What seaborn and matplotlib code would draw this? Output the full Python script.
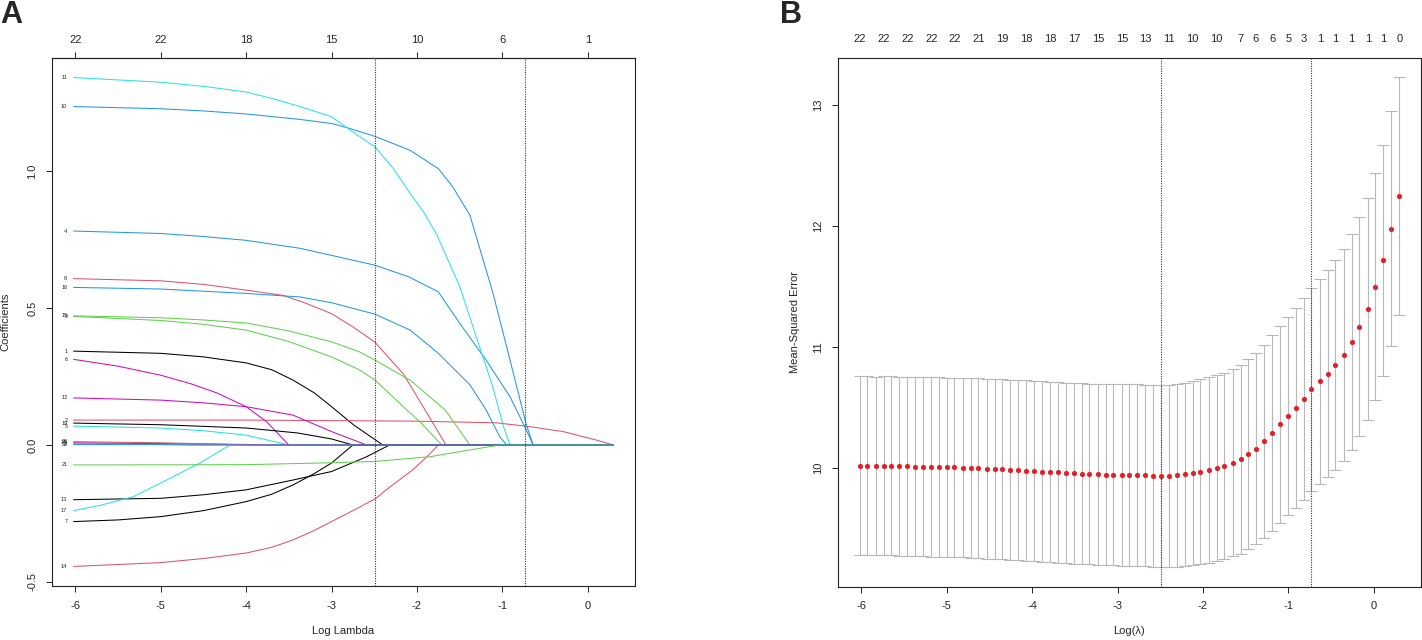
import matplotlib
matplotlib.use("Agg")
import matplotlib.pyplot as plt
import seaborn as sns
import pandas as pd

sns.set_style("ticks")
plt.rcParams["font.family"] = ["Liberation Sans", "DejaVu Sans"]
plt.rcParams["axes.unicode_minus"] = False

# glmnet log(lambda) grid, largest lambda first (69 steps)
log_lambda = [0.30, 0.20, 0.11, 0.02, -0.07, -0.17, -0.26, -0.35, -0.45, -0.54,
              -0.63, -0.73, -0.82, -0.91, -1.00, -1.10, -1.19, -1.28, -1.38, -1.47,
              -1.56, -1.65, -1.75, -1.84, -1.93, -2.03, -2.12, -2.21, -2.30, -2.40,
              -2.49, -2.58, -2.68, -2.77, -2.86, -2.95, -3.05, -3.14, -3.23, -3.33,
              -3.42, -3.51, -3.60, -3.70, -3.79, -3.88, -3.98, -4.07, -4.16, -4.26,
              -4.35, -4.44, -4.53, -4.63, -4.72, -4.81, -4.91, -5.00, -5.09, -5.18,
              -5.28, -5.37, -5.46, -5.56, -5.65, -5.74, -5.83, -5.93, -6.02]

# cross-validated mean squared error and its standard error
cv_mse = [12.249, 11.979, 11.717, 11.500, 11.317, 11.169, 11.044, 10.938, 10.853, 10.782,
          10.719, 10.653, 10.574, 10.499, 10.434, 10.365, 10.292, 10.223, 10.163, 10.115,
          10.074, 10.046, 10.021, 10.001, 9.987, 9.972, 9.961, 9.950, 9.941, 9.938,
          9.936, 9.938, 9.941, 9.942, 9.944, 9.945, 9.947, 9.948, 9.950, 9.953,
          9.956, 9.959, 9.961, 9.967, 9.970, 9.972, 9.978, 9.981, 9.983, 9.989,
          9.992, 9.994, 9.997, 10.000, 10.003, 10.006, 10.008, 10.008, 10.011, 10.011,
          10.014, 10.014, 10.017, 10.017, 10.020, 10.020, 10.020, 10.022, 10.022]
cv_sd = [0.980, 0.973, 0.953, 0.936, 0.917, 0.902, 0.891, 0.876, 0.866, 0.856,
         0.846, 0.839, 0.834, 0.826, 0.819, 0.813, 0.807, 0.797, 0.788, 0.784,
         0.778, 0.774, 0.769, 0.769, 0.765, 0.762, 0.760, 0.758, 0.754, 0.751,
         0.751, 0.751, 0.750, 0.750, 0.749, 0.749, 0.748, 0.748, 0.748, 0.747,
         0.747, 0.746, 0.746, 0.746, 0.745, 0.745, 0.745, 0.744, 0.744, 0.744,
         0.743, 0.743, 0.742, 0.742, 0.742, 0.741, 0.741, 0.740, 0.740, 0.740,
         0.739, 0.739, 0.739, 0.738, 0.738, 0.738, 0.737, 0.737, 0.737]
idx_min, idx_1se = 30, 11

# non-zero counts printed above panel B (index into log_lambda)
nz_idx = [0, 2, 4, 6, 8, 10, 12, 14, 16, 18, 20, 23, 26, 29, 32, 35, 38, 41,
          44, 47, 50, 53, 56, 59, 62, 65, 68]
nz_text = ["0", "1", "1", "1", "1", "1", "3", "5", "6", "6", "7", "10", "10", "11",
           "13", "15", "15", "17", "18", "18", "19", "21", "22", "22", "22", "22", "22"]

# degrees of freedom printed above panel A
path_ticks = [-6, -5, -4, -3, -2, -1, 0]
path_df = ["22", "22", "18", "15", "10", "6", "1"]

# coefficient paths: (log lambda, coefficient) knots for each variable
p01 = [(-6.02, 0.343), (-5.0, 0.335), (-4.5, 0.322), (-4.0, 0.300), (-3.7, 0.275), (-3.45, 0.237),
       (-3.2, 0.19), (-3.0, 0.140), (-2.74, 0.073), (-2.40, 0.0), (0.30, 0.0)]
p02 = [(-6.02, 0.091), (-4.0, 0.091), (-3.0, 0.089), (-2.0, 0.087), (-1.07, 0.081), (-0.68, 0.067),
       (-0.29, 0.049), (0.10, 0.018), (0.30, 0.0)]
p03 = [(-6.02, 0.004), (-5.0, 0.002), (-4.5, 0.0), (0.30, 0.0)]
p04 = [(-6.02, 0.782), (-5.0, 0.773), (-4.5, 0.762), (-4.0, 0.748), (-3.37, 0.719), (-3.0, 0.693),
       (-2.49, 0.657), (-2.1, 0.615), (-1.75, 0.560), (-1.5, 0.445), (-1.19, 0.310),
       (-0.91, 0.176), (-0.72, 0.055), (-0.64, 0.0), (0.30, 0.0)]
p05 = [(-6.02, 0.069), (-5.0, 0.062), (-4.5, 0.052), (-4.0, 0.036), (-3.57, 0.005), (-3.50, 0.0),
       (0.30, 0.0)]
p06 = [(-6.02, 0.313), (-5.5, 0.288), (-5.0, 0.255), (-4.65, 0.224), (-4.34, 0.190), (-4.0, 0.140),
       (-3.76, 0.085), (-3.50, 0.0), (0.30, 0.0)]
p07 = [(-6.02, -0.280), (-5.5, -0.274), (-5.0, -0.262), (-4.5, -0.240), (-4.0, -0.207),
       (-3.7, -0.180), (-3.45, -0.146), (-3.2, -0.104), (-3.0, -0.066), (-2.75, 0.0), (0.30, 0.0)]
p08 = [(-6.02, 0.608), (-5.0, 0.600), (-4.5, 0.587), (-4.0, 0.566), (-3.57, 0.547), (-3.3, 0.518),
       (-3.0, 0.480), (-2.75, 0.432), (-2.49, 0.375), (-2.16, 0.260), (-1.88, 0.115),
       (-1.66, 0.0), (0.30, 0.0)]
p09 = [(-6.02, 0.470), (-5.0, 0.455), (-4.5, 0.441), (-4.0, 0.420), (-3.5, 0.378), (-3.0, 0.322),
       (-2.67, 0.274), (-2.49, 0.237), (-2.16, 0.140), (-1.95, 0.080), (-1.71, 0.0), (0.30, 0.0)]
p10 = [(-6.02, 1.237), (-5.0, 1.229), (-4.5, 1.221), (-4.0, 1.210), (-3.37, 1.190), (-3.0, 1.175),
       (-2.82, 1.160), (-2.49, 1.128), (-2.08, 1.077), (-1.75, 1.010), (-1.58, 0.943),
       (-1.38, 0.840), (-1.11, 0.555), (-0.91, 0.310), (-0.725, 0.080), (-0.64, 0.0), (0.30, 0.0)]
p11 = [(-6.02, 1.343), (-5.0, 1.326), (-4.5, 1.311), (-4.0, 1.290), (-3.7, 1.267), (-3.37, 1.237),
       (-3.0, 1.200), (-2.82, 1.160), (-2.67, 1.127), (-2.49, 1.089), (-2.28, 1.012),
       (-2.08, 0.920), (-1.92, 0.850), (-1.77, 0.770), (-1.50, 0.580), (-1.30, 0.390),
       (-1.11, 0.210), (-0.99, 0.070), (-0.91, 0.0), (0.30, 0.0)]
p12 = [(-6.02, 0.172), (-5.0, 0.164), (-4.5, 0.154), (-4.0, 0.140), (-3.45, 0.109), (-3.0, 0.049),
       (-2.59, 0.0), (0.30, 0.0)]
p13 = [(-6.02, -0.200), (-5.0, -0.195), (-4.5, -0.182), (-4.0, -0.164), (-3.45, -0.128),
       (-3.0, -0.097), (-2.59, -0.043), (-2.32, 0.0), (0.30, 0.0)]
p14 = [(-6.02, -0.444), (-5.0, -0.430), (-4.5, -0.415), (-4.0, -0.395), (-3.7, -0.374),
       (-3.45, -0.347), (-3.2, -0.312), (-3.0, -0.280), (-2.75, -0.240), (-2.48, -0.195),
       (-2.36, -0.164), (-2.05, -0.091), (-1.85, -0.033), (-1.75, 0.0), (0.30, 0.0)]
p15 = [(-6.02, 0.472), (-5.0, 0.465), (-4.5, 0.457), (-4.0, 0.446), (-3.5, 0.417), (-3.0, 0.377),
       (-2.67, 0.340), (-2.49, 0.310), (-2.08, 0.237), (-1.67, 0.128), (-1.38, 0.0), (0.30, 0.0)]
p16 = [(-6.02, 0.576), (-5.0, 0.570), (-4.0, 0.554), (-3.37, 0.541), (-3.0, 0.520), (-2.49, 0.478),
       (-2.08, 0.420), (-1.75, 0.335), (-1.38, 0.220), (-1.19, 0.128), (-1.03, 0.030),
       (-0.95, 0.0), (0.30, 0.0)]
p17 = [(-6.02, -0.240), (-5.7, -0.220), (-5.32, -0.189), (-4.93, -0.128), (-4.54, -0.066),
       (-4.19, 0.0), (0.30, 0.0)]
p18 = [(-6.02, 0.008), (-5.0, 0.005), (-4.0, 0.002), (-3.6, 0.0), (0.30, 0.0)]
p19 = [(-6.02, 0.080), (-5.0, 0.074), (-4.0, 0.062), (-3.4, 0.044), (-3.0, 0.022), (-2.75, 0.0),
       (0.30, 0.0)]
p20 = [(-6.02, 0.012), (-5.0, 0.008), (-4.3, 0.003), (-4.0, 0.0), (0.30, 0.0)]
p21 = [(-6.02, -0.073), (-4.0, -0.072), (-3.0, -0.065), (-2.49, -0.060), (-1.85, -0.043),
       (-1.38, -0.018), (-1.03, 0.0), (0.30, 0.0)]
p22 = [(-6.02, 0.002), (-5.0, 0.001), (-4.6, 0.0), (0.30, 0.0)]

paths = [p01, p02, p03, p04, p05, p06, p07, p08, p09, p10, p11,
         p12, p13, p14, p15, p16, p17, p18, p19, p20, p21, p22]

# R's default matplot colours (col = 1:6, recycled)
r_cols = ["black", "#DF536B", "#61D04F", "#2297E6", "#28E2E5", "#CD0BBC"]


def r_lim(lo, hi, f=0.04):
    d = (hi - lo) * f
    return lo - d, hi + d


rows = []
for k, pts in enumerate(paths, start=1):
    for x, y in pts:
        rows.append({"var": str(k), "log_lambda": x, "coef": y})
coef_df = pd.DataFrame(rows)
var_order = [str(k) for k in range(1, len(paths) + 1)]
pal = {v: r_cols[i % 6] for i, v in enumerate(var_order)}

W, H = 1422, 640
fig = plt.figure(figsize=(W / 100, H / 100), dpi=100)
axA = fig.add_axes([52 / W, 1 - 586 / H, (635 - 52) / W, (586 - 58) / H])
axB = fig.add_axes([838 / W, 1 - 586.6 / H, (1421 - 838) / W, (586.6 - 57.6) / H])

box_col = "#222222"


def r_box(ax):
    for s in ax.spines.values():
        s.set_visible(True)
        s.set_linewidth(0.8)
        s.set_color(box_col)
    ax.tick_params(direction="out", length=4.5, width=0.7, color=box_col,
                   labelsize=8, pad=6)
    ax.tick_params(axis="y", labelrotation=90)
    for lab in ax.get_yticklabels():
        lab.set_va("center")


# ---- panel A: coefficient paths
sns.lineplot(data=coef_df, x="log_lambda", y="coef", hue="var", hue_order=var_order,
             palette=pal, estimator=None, sort=False, legend=False,
             linewidth=0.75, ax=axA)
for k, pts in enumerate(paths, start=1):
    x0, y0 = pts[0]
    axA.annotate(str(k), (x0, y0), xytext=(-4.5, 0), textcoords="offset points",
                 ha="right", va="center", fontsize=4)
for i in (idx_min, idx_1se):
    axA.axvline(log_lambda[i], color="#333333", lw=0.8, ls=(0, (1, 1.2)))

all_coef = coef_df["coef"]
axA.set_xlim(r_lim(min(log_lambda), max(log_lambda)))
axA.set_ylim(r_lim(all_coef.min(), all_coef.max()))
axA.set_xticks(path_ticks)
axA.set_yticks([-0.5, 0.0, 0.5, 1.0])
axA.set_yticklabels(["-0.5", "0.0", "0.5", "1.0"])
r_box(axA)
axA.set_xlabel("Log Lambda", fontsize=8)
axA.set_ylabel("Coefficients", fontsize=8)
axA.xaxis.set_label_coords(0.5, -(626 - 586) / 528)
axA.yaxis.set_label_coords(-(52 - 10) / 583, 0.5)

topA = axA.secondary_xaxis("top")
topA.set_xticks(path_ticks, labels=path_df)
topA.tick_params(direction="out", length=4.5, width=0.7, color=box_col, labelsize=8, pad=5)
topA.spines["top"].set_color(box_col)
topA.spines["top"].set_linewidth(0.8)

# ---- panel B: cross-validation curve
axB.errorbar(log_lambda, cv_mse, yerr=cv_sd, fmt="none", ecolor="#B8B8B8",
             elinewidth=0.8, capsize=4, capthick=0.8, zorder=2)
sns.scatterplot(x=log_lambda, y=cv_mse, color="#E3202A", s=14, linewidth=0,
                ax=axB, zorder=3)
for i in (idx_min, idx_1se):
    axB.axvline(log_lambda[i], color="#333333", lw=0.8, ls=(0, (1, 1.2)))

lo = [m - s for m, s in zip(cv_mse, cv_sd)]
hi = [m + s for m, s in zip(cv_mse, cv_sd)]
axB.set_xlim(r_lim(min(log_lambda), max(log_lambda)))
axB.set_ylim(r_lim(min(lo), max(hi)))
axB.set_xticks(path_ticks)
axB.set_yticks([10, 11, 12, 13])
r_box(axB)
axB.set_xlabel("Log(\u03bb)", fontsize=8)
axB.set_ylabel("Mean-Squared Error", fontsize=8)
axB.xaxis.set_label_coords(0.5, -(626 - 586.6) / 529)
axB.yaxis.set_label_coords(-(838 - 800) / 583, 0.5)

topB = axB.secondary_xaxis("top")
topB.set_xticks([log_lambda[i] for i in nz_idx], labels=nz_text)
topB.tick_params(length=0, labelsize=8, pad=10)
topB.spines["top"].set_visible(False)

fig.text(0, 1 - 15 / H, "A", fontsize=22, fontweight="bold", ha="left", va="center")
fig.text(780 / W, 1 - 15 / H, "B", fontsize=22, fontweight="bold", ha="left", va="center")

fig.savefig("out.png", dpi=100)
